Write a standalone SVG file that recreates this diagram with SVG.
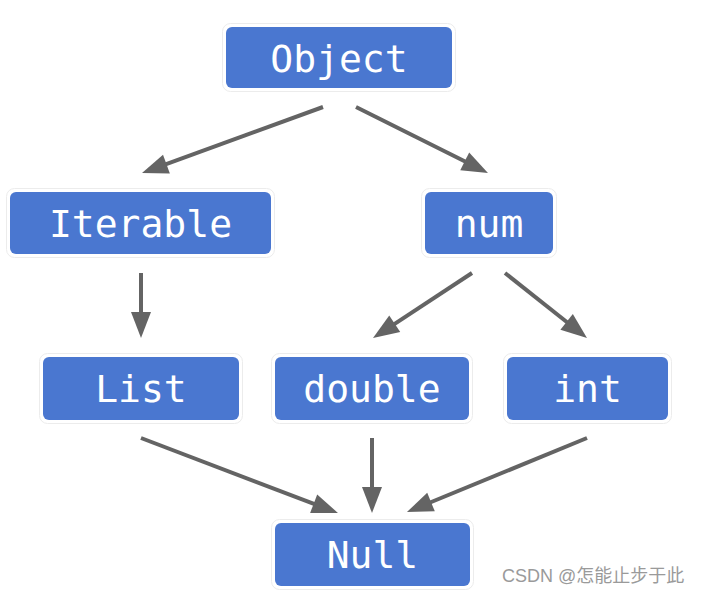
<svg xmlns="http://www.w3.org/2000/svg" width="702" height="594" viewBox="0 0 702 594">
  <style>
    .box { fill: #4a77d0; }
    .halo { fill: none; stroke: #ececec; stroke-width: 1; }
    .lbl { fill: #ffffff; font-family: "DejaVu Sans Mono", "Liberation Mono", monospace; font-size: 38px; text-anchor: middle; }
    .edge { stroke: #646464; stroke-width: 4; fill: none; marker-end: url(#arrow); }
    .wm { fill: #9a9a9a; font-family: "Liberation Sans", "Noto Sans CJK SC", sans-serif; font-size: 18px; }
  </style>
  <defs>
    <marker id="arrow" markerUnits="userSpaceOnUse" markerWidth="28" markerHeight="22" refX="1" refY="10" orient="auto" overflow="visible">
      <path d="M0,0 L26,10 L0,20 Z" fill="#646464"/>
    </marker>
  </defs>
  <rect width="702" height="594" fill="#ffffff"/>

  <g id="connectors">
    <line class="edge" x1="323" y1="107" x2="165.5" y2="164.4"/>
    <line class="edge" x1="356" y1="107" x2="465.6" y2="161.8"/>
    <line class="edge" x1="141" y1="273" x2="141" y2="313"/>
    <line class="edge" x1="472" y1="273" x2="393.9" y2="324.3"/>
    <line class="edge" x1="505" y1="273" x2="567.4" y2="322.5"/>
    <line class="edge" x1="141" y1="438" x2="314.6" y2="504.1"/>
    <line class="edge" x1="372" y1="438" x2="372" y2="488"/>
    <line class="edge" x1="587" y1="438" x2="430.1" y2="502.5"/>
  </g>

  <g id="node-object">
    <rect class="halo" x="222.5" y="23.5" width="233" height="68" rx="8"/>
    <rect class="box" x="226" y="27" width="226" height="61" rx="6"/>
    <text class="lbl" x="339" y="71.5">Object</text>
  </g>
  <g id="node-iterable">
    <rect class="halo" x="6.5" y="188.5" width="268" height="69" rx="8"/>
    <rect class="box" x="10" y="192" width="261" height="62" rx="6"/>
    <text class="lbl" x="140.5" y="236.5">Iterable</text>
  </g>
  <g id="node-num">
    <rect class="halo" x="421.5" y="188.5" width="135" height="69" rx="8"/>
    <rect class="box" x="425" y="192" width="128" height="62" rx="6"/>
    <text class="lbl" x="489" y="236.5">num</text>
  </g>
  <g id="node-list">
    <rect class="halo" x="39.5" y="353.5" width="203" height="70" rx="8"/>
    <rect class="box" x="43" y="357" width="196" height="63" rx="6"/>
    <text class="lbl" x="141" y="402">List</text>
  </g>
  <g id="node-double">
    <rect class="halo" x="271.5" y="353.5" width="201" height="70" rx="8"/>
    <rect class="box" x="275" y="357" width="194" height="63" rx="6"/>
    <text class="lbl" x="372" y="402">double</text>
  </g>
  <g id="node-int">
    <rect class="halo" x="503.5" y="353.5" width="168" height="70" rx="8"/>
    <rect class="box" x="507" y="357" width="161" height="63" rx="6"/>
    <text class="lbl" x="587.5" y="402">int</text>
  </g>
  <g id="node-null">
    <rect class="halo" x="271.5" y="519.5" width="202" height="70" rx="8"/>
    <rect class="box" x="275" y="523" width="195" height="63" rx="6"/>
    <text class="lbl" x="372.5" y="568">Null</text>
  </g>

  <text class="wm" x="502" y="582">CSDN @怎能止步于此</text>
</svg>
